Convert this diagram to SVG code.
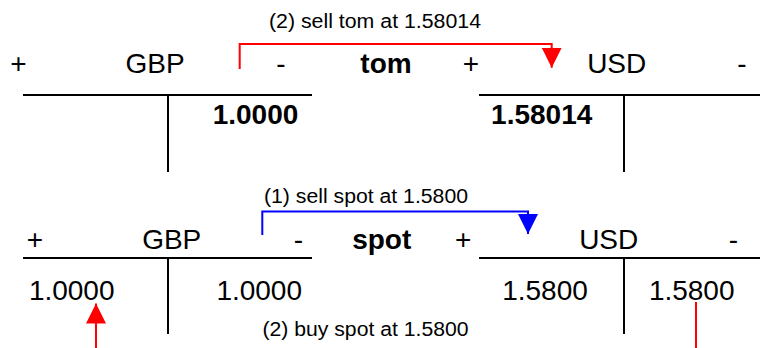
<svg xmlns="http://www.w3.org/2000/svg" width="760" height="348" viewBox="0 0 760 348">
  <style>
    text { font-family: "Liberation Sans", Arial, sans-serif; fill: #000; }
    .big { font-size: 28px; text-anchor: middle; }
    .bold { font-weight: bold; }
    .small { font-size: 20px; }
    .acc { stroke: #000; stroke-width: 2; fill: none; }
    .red { stroke: #ff0000; stroke-width: 2; fill: none; }
    .blue { stroke: #0000ff; stroke-width: 2; fill: none; }
  </style>
  <defs>
    <marker id="arrRed" viewBox="0 0 20 20" refX="20" refY="10" markerWidth="20" markerHeight="20" markerUnits="userSpaceOnUse" orient="auto">
      <path d="M0,0 L20,10 L0,20 z" fill="#ff0000"/>
    </marker>
    <marker id="arrBlue" viewBox="0 0 20 20" refX="20" refY="10" markerWidth="20" markerHeight="20" markerUnits="userSpaceOnUse" orient="auto">
      <path d="M0,0 L20,10 L0,20 z" fill="#0000ff"/>
    </marker>
  </defs>

  <rect width="760" height="348" fill="#fff"/>

  <!-- tom section -->
  <g id="tom-title">
    <text class="big bold" x="386" y="73">tom</text>
  </g>
  <g id="tom-gbp">
    <path class="acc" d="M23 95 H312 M168 95 V172"/>
    <text class="big" x="18.5" y="73">+</text>
    <text class="big" x="155" y="73">GBP</text>
    <text class="big" x="281" y="73">-</text>
    <text class="big bold" x="255.5" y="124">1.0000</text>
  </g>
  <g id="tom-usd">
    <path class="acc" d="M479 95 H760 M624 95 V172"/>
    <text class="big" x="471" y="73">+</text>
    <text class="big" x="616.7" y="73">USD</text>
    <text class="big" x="742" y="73">-</text>
    <text class="big bold" x="541.7" y="124">1.58014</text>
  </g>

  <!-- spot section -->
  <g id="spot-title">
    <text class="big bold" x="381.7" y="249">spot</text>
  </g>
  <g id="spot-gbp">
    <path class="acc" d="M23 258 H312 M168 258 V334"/>
    <text class="big" x="35" y="249">+</text>
    <text class="big" x="171.7" y="249">GBP</text>
    <text class="big" x="298.3" y="249">-</text>
    <text class="big" x="71.7" y="300">1.0000</text>
    <text class="big" x="259.2" y="300">1.0000</text>
  </g>
  <g id="spot-usd">
    <path class="acc" d="M479 258 H760 M624 258 V334"/>
    <text class="big" x="463.3" y="249">+</text>
    <text class="big" x="608.7" y="249">USD</text>
    <text class="big" x="733.3" y="249">-</text>
    <text class="big" x="545" y="300">1.5800</text>
    <text class="big" x="691.7" y="300">1.5800</text>
  </g>

  <!-- connectors -->
  <g id="connectors">
    <path class="red" d="M239.7 69 V44 H551.7 V67.7" marker-end="url(#arrRed)"/>
    <text class="small" x="269" y="28" textLength="212" lengthAdjust="spacingAndGlyphs">(2) sell tom at 1.58014</text>
    <path class="blue" d="M262.3 235 V211.5 H528 V234" marker-end="url(#arrBlue)"/>
    <text class="small" x="264" y="203" textLength="204" lengthAdjust="spacingAndGlyphs">(1) sell spot at 1.5800</text>
    <path class="red" d="M96 348 V303.5" marker-end="url(#arrRed)"/>
    <path class="red" d="M696 302 V348"/>
    <text class="small" x="262.5" y="336" textLength="206" lengthAdjust="spacingAndGlyphs">(2) buy spot at 1.5800</text>
  </g>
</svg>
